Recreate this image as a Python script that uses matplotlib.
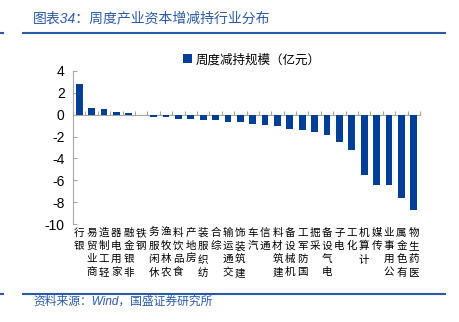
import matplotlib
matplotlib.use("Agg")
import matplotlib.pyplot as plt
from matplotlib.lines import Line2D
import numpy as np

plt.rcParams['font.family'] = ['Liberation Sans', 'Noto Sans CJK SC']
plt.rcParams['axes.unicode_minus'] = False

# --- datos ---
industrias = ['银行', '商业贸易', '轻工制造', '家用电器', '非银金融', '钢铁',
              '休闲服务', '农林牧渔', '食品饮料', '房地产', '纺织服装', '综合',
              '交通运输', '建筑装饰', '汽车', '通信', '建筑材料', '机械设备',
              '国防军工', '采掘', '电气设备', '电子', '化工', '计算机',
              '传媒', '公用事业', '有色金属', '医药生物']
valores = [2.8, 0.58, 0.52, 0.28, 0.15, 0.0,
           -0.2, -0.25, -0.35, -0.4, -0.5, -0.5,
           -0.65, -0.7, -0.85, -0.9, -1.05, -1.3,
           -1.38, -1.62, -1.87, -2.48, -3.24, -5.5,
           -6.42, -6.45, -7.58, -8.74]
yticks = [-10, -8, -6, -4, -2, 0, 2, 4]

titulo = '图表34：周度产业资本增减持行业分布'
fuente = '资料来源：Wind，国盛证券研究所'
leyenda = '周度减持规模（亿元）'

AZUL_BARRA = '#003F98'
AZUL_LINEA = '#2B5BA8'
GRIS = '#A6A6A6'

W, H = 459, 322
fig = plt.figure(figsize=(W / 100, H / 100), dpi=100)
ax = fig.add_axes([73 / W, 1 - 224 / H, (420 - 73) / W, (224 - 71) / H])

x = np.arange(len(industrias))
ax.bar(x, valores, width=0.55, color=AZUL_BARRA, label=leyenda, zorder=3)

ax.set_xlim(-0.5, len(industrias) - 0.5)
ax.set_ylim(-10, 4)
ax.set_yticks(yticks)
ax.set_yticklabels([str(v) for v in yticks], fontsize=10)

for s in ['top', 'right']:
    ax.spines[s].set_visible(False)
ax.spines['left'].set_color(GRIS)
ax.spines['bottom'].set_color(GRIS)
ax.spines['bottom'].set_position(('data', 0))
ax.spines['bottom'].set_zorder(2)

ax.set_xticks(np.arange(len(industrias) + 1) - 0.5)
ax.set_xticklabels([])
ax.tick_params(axis='x', direction='in', length=3, color=GRIS, width=0.8)
ax.tick_params(axis='y', direction='in', length=3, color=GRIS, width=0.8, pad=6)

# etiquetas verticales (caracteres apilados, leídos de abajo hacia arriba)
for i, nombre in enumerate(industrias):
    ax.text(i, -0.025, '\n'.join(nombre[::-1]), transform=ax.get_xaxis_transform(),
            ha='center', va='top', fontsize=7.6, linespacing=1.4)

ax.legend(loc='center', bbox_to_anchor=(252 / W, 1 - 60 / H),
          bbox_transform=fig.transFigure, frameon=False, fontsize=9,
          handlelength=0.7, handleheight=0.7, handletextpad=0.3,
          borderaxespad=0)

# título, fuente y líneas decorativas
fig.text(33 / W, 1 - 18 / H, titulo, color=AZUL_LINEA, fontsize=10,
         style='italic', va='center', ha='left')
fig.text(33 / W, 1 - 302 / H, fuente, color=AZUL_LINEA, fontsize=8.5,
         style='italic', va='center', ha='left')
for yy in [33, 294]:
    fig.add_artist(Line2D([23 / W, 445 / W], [1 - yy / H] * 2,
                          color=AZUL_LINEA, lw=1.5))
    fig.add_artist(Line2D([0, 3 / W], [1 - yy / H] * 2,
                          color=AZUL_LINEA, lw=1.5))

fig.savefig('out.png', dpi=100)
